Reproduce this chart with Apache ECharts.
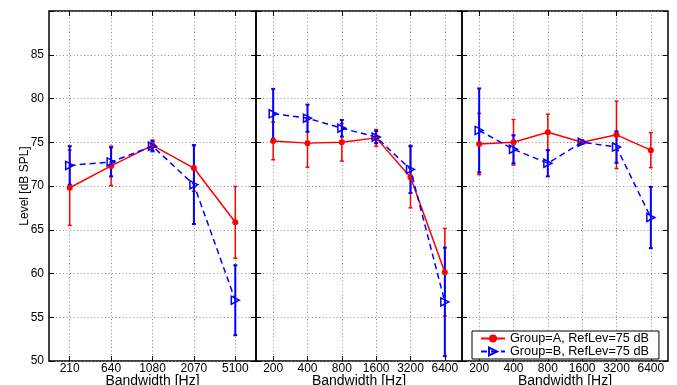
<!DOCTYPE html>
<html>
<head>
<meta charset="utf-8">
<script src="https://cdn.jsdelivr.net/npm/echarts@6/dist/echarts.min.js"></script>
<style>html,body{margin:0;padding:0;background:#fff;}#c{width:677px;height:385px;}</style>
</head>
<body>
<div id="c"></div>
<script>
// ---- data ----
const cats1 = ['210', '640', '1080', '2070', '5100'];
const cats2 = ['200', '400', '800', '1600', '3200', '6400'];
const cats3 = ['200', '400', '800', '1600', '3200', '6400'];

const A1 = [69.8, 72.3, 74.65, 72.05, 65.85];
const errA1 = [4.3, 2.25, 0.6, 2.65, 4.1];
const B1 = [72.35, 72.75, 74.55, 70.15, 56.95];
const errB1 = [2.2, 1.65, 0.6, 4.5, 4.0];

const A2 = [75.15, 74.9, 75.0, 75.5, 71.0, 60.15];
const errA2 = [2.15, 2.75, 2.15, 0.95, 3.5, 5.0];
const B2 = [78.25, 77.75, 76.6, 75.6, 71.9, 56.75];
const errB2 = [2.85, 1.55, 0.95, 0.7, 2.7, 6.2];

const A3 = [74.8, 75.0, 76.15, 75.0, 75.85, 74.1];
const errA3 = [3.5, 2.6, 2.05, 0.2, 3.85, 2.0];
const B3 = [76.35, 74.2, 72.6, 75.0, 74.45, 66.4];
const errB3 = [4.8, 1.6, 1.5, 0.2, 1.8, 3.5];

const nameA = 'Group=A, RefLev=75 dB';
const nameB = 'Group=B, RefLev=75 dB';
const yTicks = [50, 55, 60, 65, 70, 75, 80, 85];

// ---- chart ----
const RED = '#ff0000', BLUE = '#0000ff';
const FONT = 'Liberation Sans, Arial, sans-serif';
const panels = [
  {cats: cats1, A: A1, eA: errA1, B: B1, eB: errB1, left: 49, width: 207},
  {cats: cats2, A: A2, eA: errA2, B: B2, eB: errB2, left: 256, width: 206},
  {cats: cats3, A: A3, eA: errA3, B: B3, eB: errB3, left: 462, width: 206}
];
const dotted = {type: [1, 2.5], color: '#8a8a8a', width: 1};

const grid = [], xAxis = [], yAxis = [], series = [];
panels.forEach((p, i) => {
  grid.push({left: p.left, width: p.width, top: 11, bottom: 24, show: true,
    containLabel: false, outerBoundsMode: 'none',
    borderColor: '#000', borderWidth: 1.5, backgroundColor: 'transparent'});
});
panels.forEach((p, i) => {
  xAxis.push({type: 'category', gridIndex: i, data: p.cats, position: 'bottom', boundaryGap: true,
    axisLine: {show: false},
    axisTick: {show: true, inside: true, length: 5, alignWithLabel: true, lineStyle: {color: '#000'}},
    axisLabel: {show: true, margin: 2, fontSize: 12, color: '#000', fontFamily: FONT, interval: 0},
    splitLine: {show: true, alignWithLabel: true, lineStyle: dotted},
    name: 'Bandwidth [Hz]', nameLocation: 'middle', nameGap: 13, nameMoveOverlap: false,
    nameTextStyle: {fontSize: 14, color: '#000', fontFamily: FONT}
  });
});
panels.forEach((p, i) => {
  xAxis.push({type: 'category', gridIndex: i, data: p.cats, position: 'top', boundaryGap: true,
    axisLine: {show: false},
    axisTick: {show: true, inside: true, length: 5, alignWithLabel: true, lineStyle: {color: '#000'}},
    axisLabel: {show: false}, splitLine: {show: false}});
});
panels.forEach((p, i) => {
  yAxis.push({type: 'value', gridIndex: i, min: 50, max: 90, interval: 5, position: 'left',
    axisLine: {show: false},
    axisTick: {show: true, inside: true, length: 5, lineStyle: {color: '#000'}},
    axisLabel: {show: i === 0, margin: 5, fontSize: 12, color: '#000', fontFamily: FONT,
      formatter: v => (yTicks.indexOf(v) >= 0 ? String(v) : '')},
    splitLine: {show: true, lineStyle: dotted},
    name: i === 0 ? 'Level [dB SPL]' : '', nameLocation: 'middle', nameGap: 18, nameMoveOverlap: false,
    nameTextStyle: {fontSize: 12, color: '#000', fontFamily: FONT}
  });
});
panels.forEach((p, i) => {
  yAxis.push({type: 'value', gridIndex: i, min: 50, max: 90, interval: 5, position: 'right',
    axisLine: {show: false},
    axisTick: {show: true, inside: true, length: 5, lineStyle: {color: '#000'}},
    axisLabel: {show: false}, splitLine: {show: false}});
});

function errSeries(vals, errs, color, lw, capW, i) {
  return {
    type: 'custom', xAxisIndex: i, yAxisIndex: i, z: 3,
    data: vals.map((v, k) => [k, v - errs[k], v + errs[k]]),
    encode: {x: 0, y: [1, 2]},
    renderItem: function (params, api) {
      const x = api.value(0);
      const pLo = api.coord([x, api.value(1)]);
      const pHi = api.coord([x, api.value(2)]);
      const st = {stroke: color, lineWidth: lw, fill: null};
      return {type: 'group', children: [
        {type: 'line', shape: {x1: pLo[0], y1: pLo[1], x2: pHi[0], y2: pHi[1]}, style: st},
        {type: 'line', shape: {x1: pLo[0] - capW, y1: pLo[1], x2: pLo[0] + capW, y2: pLo[1]}, style: st},
        {type: 'line', shape: {x1: pHi[0] - capW, y1: pHi[1], x2: pHi[0] + capW, y2: pHi[1]}, style: st}
      ]};
    },
    silent: true
  };
}

panels.forEach((p, i) => {
  series.push(errSeries(p.A, p.eA, RED, 1.5, 2, i));
  series.push({type: 'line', name: nameA, xAxisIndex: i, yAxisIndex: i, data: p.A, z: 4,
    symbol: 'circle', symbolSize: 6, showSymbol: true,
    lineStyle: {color: RED, width: 1.5, type: 'solid'},
    itemStyle: {color: RED}});
  series.push(errSeries(p.B, p.eB, BLUE, 2, 2, i));
  series.push({type: 'line', name: nameB, xAxisIndex: i, yAxisIndex: i, data: p.B, z: 5,
    symbol: 'triangle', symbolSize: 8, symbolRotate: -90, showSymbol: true,
    lineStyle: {color: BLUE, width: 1.5, type: [6, 4]},
    itemStyle: {color: 'rgba(255,255,255,0)', borderColor: BLUE, borderWidth: 1.5}});
});

const chart = echarts.init(document.getElementById('c'), null, {renderer: 'canvas'});
chart.setOption({
  animation: false,
  backgroundColor: '#fff',
  grid, xAxis, yAxis, series,
  legend: {
    data: [nameA, nameB], orient: 'vertical', left: 472, top: 331,
    backgroundColor: '#fff', borderColor: '#000', borderWidth: 1,
    padding: [1, 10, 1, 8], itemGap: 0, itemWidth: 24, itemHeight: 10,
    textStyle: {fontSize: 12.7, color: '#000', fontFamily: FONT, lineHeight: 11},
    selectedMode: false
  }
});
</script>
</body>
</html>
